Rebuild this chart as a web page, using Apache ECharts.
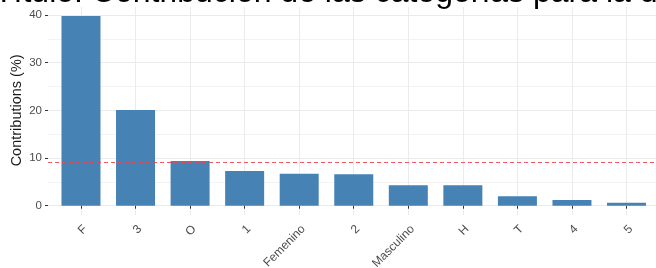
<!DOCTYPE html>
<html>
<head>
<meta charset="utf-8">
<script src="https://cdn.jsdelivr.net/npm/echarts@6/dist/echarts.min.js"></script>
<style>
  html, body { margin: 0; padding: 0; background: #fff; }
  #main { width: 656px; height: 268px; }
</style>
</head>
<body>
<div id="main"></div>
<script>
// datos
var categories = ['F', '3', 'O', '1', 'Femenino', '2', 'Masculino', 'H', 'T', '4', '5'];
var contributions = [39.8, 20.1, 9.4, 7.3, 6.7, 6.6, 4.3, 4.3, 2.0, 1.2, 0.6];
var refLine = 9.09; // contribucion esperada
var titleText = 'Título: Contribución de las categorías para la dimensión 1';

var font = "'Liberation Sans', Arial, sans-serif";

var myChart = echarts.init(document.getElementById('main'));

var option = {
    animation: false,
    backgroundColor: '#fff',
    title: {
        text: titleText,
        left: -11,
        top: -28,
        textStyle: { fontFamily: font, fontSize: 32, fontWeight: 'normal', color: '#000' }
    },
    grid: [
        // panel de las barras (incluye la expansion de ggplot)
        { left: 53.7, right: 2.2, top: 7, height: 208, outerBoundsMode: 'none' },
        // eje y con las etiquetas 0..40
        { left: 48, right: 0, top: 15, height: 190.7, outerBoundsMode: 'none' }
    ],
    xAxis: [
        {
            type: 'category',
            gridIndex: 0,
            data: categories,
            axisLine: { show: false },
            axisTick: { show: true, alignWithLabel: true, length: 3, lineStyle: { color: '#333', width: 1 } },
            splitLine: { show: true, alignWithLabel: true, lineStyle: { color: '#ebebeb', width: 1 } },
            axisLabel: {
                rotate: 45,
                margin: 8,
                verticalAlign: 'top',
                fontFamily: font,
                fontSize: 12,
                color: '#4d4d4d'
            }
        },
        {
            type: 'value',
            gridIndex: 1,
            show: false
        }
    ],
    yAxis: [
        {
            type: 'value',
            gridIndex: 0,
            min: -1.95,
            max: 41.68,
            show: false,
            splitLine: { show: false }
        },
        {
            type: 'value',
            gridIndex: 1,
            min: 0,
            max: 40,
            interval: 10,
            name: 'Contributions (%)',
            nameLocation: 'middle',
            nameGap: 24,
            nameMoveOverlap: false,
            nameTextStyle: { fontFamily: font, fontSize: 14.5, color: '#1a1a1a' },
            axisLine: { show: false },
            axisTick: { show: true, length: 3, lineStyle: { color: '#333', width: 1 } },
            axisLabel: { margin: 6, fontFamily: font, fontSize: 11.5, color: '#4d4d4d' },
            splitLine: { show: true, lineStyle: { color: '#ebebeb', width: 1 } },
            minorTick: { show: false, splitNumber: 2 },
            minorSplitLine: { show: true, lineStyle: { color: '#f3f3f3', width: 1 } }
        }
    ],
    series: [
        {
            type: 'bar',
            xAxisIndex: 0,
            yAxisIndex: 0,
            data: contributions,
            barWidth: 39,
            itemStyle: { color: '#4682b4' },
            silent: true
        },
        {
            type: 'line',
            xAxisIndex: 1,
            yAxisIndex: 1,
            data: [],
            silent: true,
            markLine: {
                symbol: 'none',
                silent: true,
                label: { show: false },
                lineStyle: { color: 'rgba(235, 70, 80, 0.9)', type: [4, 3], width: 1.2 },
                data: [{ yAxis: refLine }]
            }
        }
    ]
};

myChart.setOption(option);
</script>
</body>
</html>
